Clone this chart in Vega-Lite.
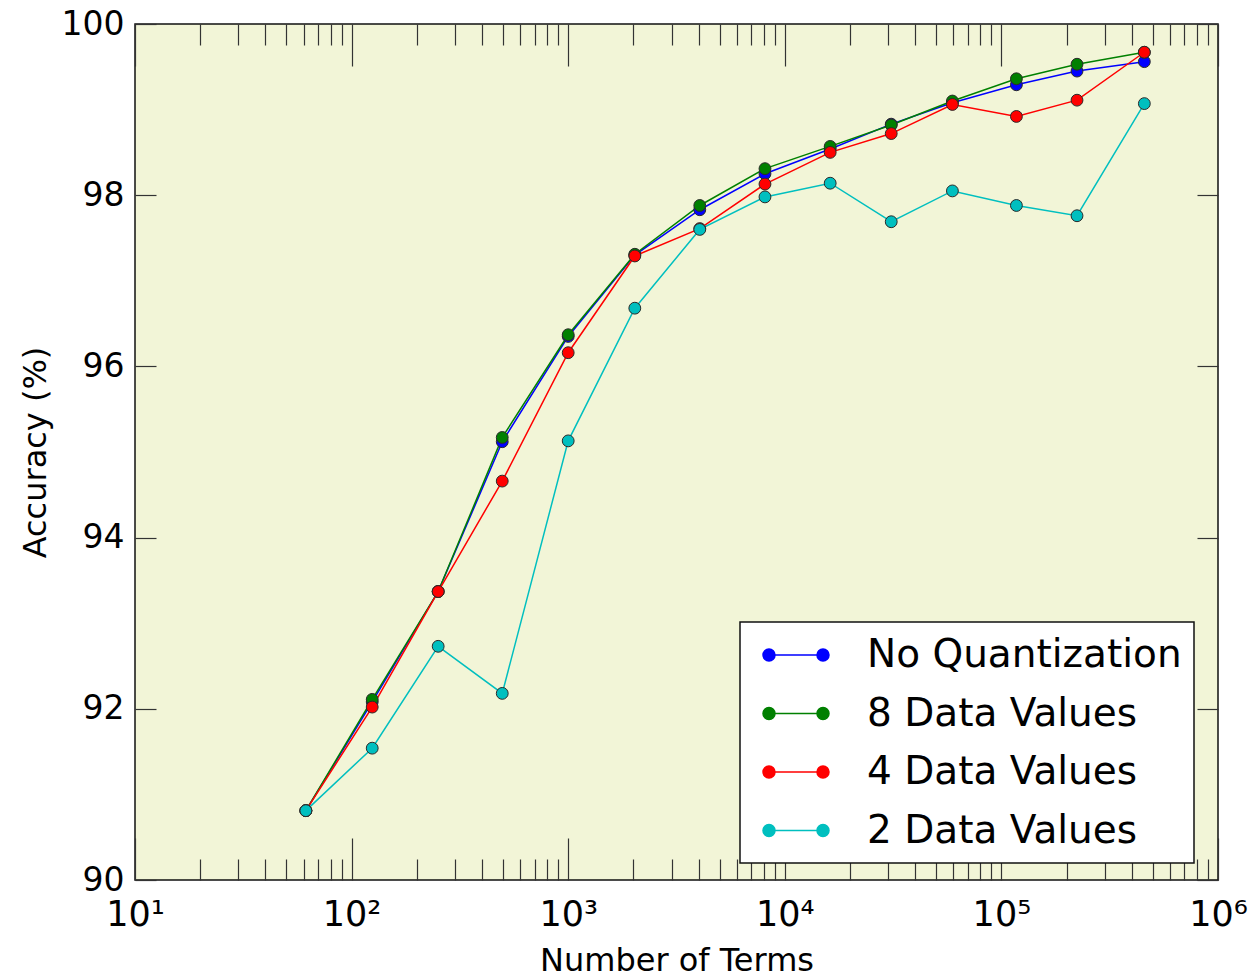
{
  "$schema": "https://vega.github.io/schema/vega-lite/v6.json",
  "width": 1083,
  "height": 856,
  "autosize": {"type": "none"},
  "padding": {"left": 135, "top": 24, "right": 37, "bottom": 97},
  "background": "white",
  "config": {
    "view": {"fill": "#f2f5d7", "stroke": "#111111", "strokeWidth": 1.5},
    "axis": {"domain": false, "grid": false, "tickColor": "#333333", "tickWidth": 1.2, "labelColor": "#000000", "titleColor": "#000000", "labelFont": "DejaVu Sans", "titleFont": "DejaVu Sans", "titleFontWeight": "normal"}
  },
  "data": {
    "values": [
      {"series": "No Quantization", "terms": 61.5, "acc": 90.81},
      {"series": "No Quantization", "terms": 124.5, "acc": 92.08},
      {"series": "No Quantization", "terms": 251, "acc": 93.37},
      {"series": "No Quantization", "terms": 496, "acc": 95.12},
      {"series": "No Quantization", "terms": 1000, "acc": 96.35},
      {"series": "No Quantization", "terms": 2030, "acc": 97.30},
      {"series": "No Quantization", "terms": 4050, "acc": 97.83},
      {"series": "No Quantization", "terms": 8100, "acc": 98.25},
      {"series": "No Quantization", "terms": 16200, "acc": 98.54},
      {"series": "No Quantization", "terms": 31000, "acc": 98.83},
      {"series": "No Quantization", "terms": 59400, "acc": 99.08},
      {"series": "No Quantization", "terms": 117300, "acc": 99.29},
      {"series": "No Quantization", "terms": 223400, "acc": 99.45},
      {"series": "No Quantization", "terms": 457000, "acc": 99.56},
      {"series": "8 Data Values", "terms": 61.5, "acc": 90.81},
      {"series": "8 Data Values", "terms": 124.5, "acc": 92.11},
      {"series": "8 Data Values", "terms": 251, "acc": 93.37},
      {"series": "8 Data Values", "terms": 496, "acc": 95.17},
      {"series": "8 Data Values", "terms": 1000, "acc": 96.37},
      {"series": "8 Data Values", "terms": 2030, "acc": 97.31},
      {"series": "8 Data Values", "terms": 4050, "acc": 97.88},
      {"series": "8 Data Values", "terms": 8100, "acc": 98.31},
      {"series": "8 Data Values", "terms": 16200, "acc": 98.57},
      {"series": "8 Data Values", "terms": 31000, "acc": 98.82},
      {"series": "8 Data Values", "terms": 59400, "acc": 99.10},
      {"series": "8 Data Values", "terms": 117300, "acc": 99.36},
      {"series": "8 Data Values", "terms": 223400, "acc": 99.53},
      {"series": "8 Data Values", "terms": 457000, "acc": 99.67},
      {"series": "4 Data Values", "terms": 61.5, "acc": 90.81},
      {"series": "4 Data Values", "terms": 124.5, "acc": 92.02},
      {"series": "4 Data Values", "terms": 251, "acc": 93.37},
      {"series": "4 Data Values", "terms": 496, "acc": 94.66},
      {"series": "4 Data Values", "terms": 1000, "acc": 96.16},
      {"series": "4 Data Values", "terms": 2030, "acc": 97.29},
      {"series": "4 Data Values", "terms": 4050, "acc": 97.61},
      {"series": "4 Data Values", "terms": 8100, "acc": 98.13},
      {"series": "4 Data Values", "terms": 16200, "acc": 98.50},
      {"series": "4 Data Values", "terms": 31000, "acc": 98.72},
      {"series": "4 Data Values", "terms": 59400, "acc": 99.06},
      {"series": "4 Data Values", "terms": 117300, "acc": 98.92},
      {"series": "4 Data Values", "terms": 223400, "acc": 99.11},
      {"series": "4 Data Values", "terms": 457000, "acc": 99.67},
      {"series": "2 Data Values", "terms": 61.5, "acc": 90.81},
      {"series": "2 Data Values", "terms": 124.5, "acc": 91.54},
      {"series": "2 Data Values", "terms": 251, "acc": 92.73},
      {"series": "2 Data Values", "terms": 496, "acc": 92.18},
      {"series": "2 Data Values", "terms": 1000, "acc": 95.13},
      {"series": "2 Data Values", "terms": 2030, "acc": 96.68},
      {"series": "2 Data Values", "terms": 4050, "acc": 97.60},
      {"series": "2 Data Values", "terms": 8100, "acc": 97.98},
      {"series": "2 Data Values", "terms": 16200, "acc": 98.14},
      {"series": "2 Data Values", "terms": 31000, "acc": 97.69},
      {"series": "2 Data Values", "terms": 59400, "acc": 98.05},
      {"series": "2 Data Values", "terms": 117300, "acc": 97.88},
      {"series": "2 Data Values", "terms": 223400, "acc": 97.76},
      {"series": "2 Data Values", "terms": 457000, "acc": 99.07}
    ]
  },
  "layer": [
    {
      "mark": {"type": "line", "strokeWidth": 1.5},
      "encoding": {
        "x": {
          "field": "terms", "type": "quantitative",
          "scale": {"type": "log", "domain": [10, 1000000], "nice": false},
          "axis": {
            "orient": "bottom", "tickCount": 40, "labelFlush": false, "labelOverlap": false,
            "labelExpr": "abs(log(datum.value)/LN10 - round(log(datum.value)/LN10)) < 0.001 ? '10' + ['⁰','¹','²','³','⁴','⁵','⁶','⁷'][round(log(datum.value)/LN10)] : ''",
            "tickSize": {"condition": {"test": "abs(log(datum.value)/LN10 - round(log(datum.value)/LN10)) < 0.001", "value": -42}, "value": -21},
            "labelFontSize": 35, "labelPadding": 59,
            "title": "Number of Terms", "titleFontSize": 32, "titleBaseline": "alphabetic", "titleAlign": "center", "titleX": 541.5, "titleY": 90
          }
        },
        "y": {
          "field": "acc", "type": "quantitative",
          "scale": {"domain": [90, 100], "zero": false, "nice": false},
          "axis": {
            "orient": "left", "values": [90, 92, 94, 96, 98, 100], "tickSize": -21,
            "labelFontSize": 33, "labelPadding": 32,
            "title": "Accuracy (%)", "titleFontSize": 32, "titleAngle": -90, "titleBaseline": "alphabetic", "titleAlign": "center", "titleX": -90, "titleY": 428
          }
        },
        "color": {
          "field": "series", "type": "nominal",
          "scale": {"domain": ["No Quantization", "8 Data Values", "4 Data Values", "2 Data Values"], "range": ["#0000ff", "#008000", "#ff0000", "#00bfbf"]},
          "legend": {
            "orient": "none", "legendX": 605, "legendY": 598, "title": null,
            "fillColor": "#ffffff", "strokeColor": "#111111", "padding": 12, "cornerRadius": 0,
            "labelFont": "DejaVu Sans", "labelFontSize": 39, "labelColor": "#000000", "labelLimit": 0,
            "symbolType": "M-1.35,0L1.35,0M-1.65,0A0.3,0.3 0 1,0 -1.05,0A0.3,0.3 0 1,0 -1.65,0M1.05,0A0.3,0.3 0 1,0 1.65,0A0.3,0.3 0 1,0 1.05,0",
            "symbolSize": 1600, "symbolStrokeWidth": 1.5, "symbolOffset": 23, "labelOffset": 50, "rowPadding": 17.5,
            "encode": {
              "legend": {"update": {"strokeWidth": {"value": 1.5}}},
              "symbols": {"update": {"fill": {"scale": "color", "field": "value"}, "stroke": {"scale": "color", "field": "value"}, "opacity": {"value": 1}}}
            }
          }
        }
      }
    },
    {
      "mark": {"type": "point", "filled": true, "size": 140, "stroke": "#2a2a2a", "strokeWidth": 1, "opacity": 1},
      "encoding": {
        "x": {
          "field": "terms", "type": "quantitative",
          "axis": {
            "orient": "top", "tickCount": 40, "labels": false, "title": null,
            "tickSize": {"condition": {"test": "abs(log(datum.value)/LN10 - round(log(datum.value)/LN10)) < 0.001", "value": -42}, "value": -21}
          }
        },
        "y": {
          "field": "acc", "type": "quantitative",
          "axis": {"orient": "right", "values": [90, 92, 94, 96, 98, 100], "tickSize": -21, "labels": false, "title": null}
        },
        "color": {"field": "series", "type": "nominal"}
      }
    }
  ],
  "resolve": {"axis": {"x": "independent", "y": "independent"}}
}
